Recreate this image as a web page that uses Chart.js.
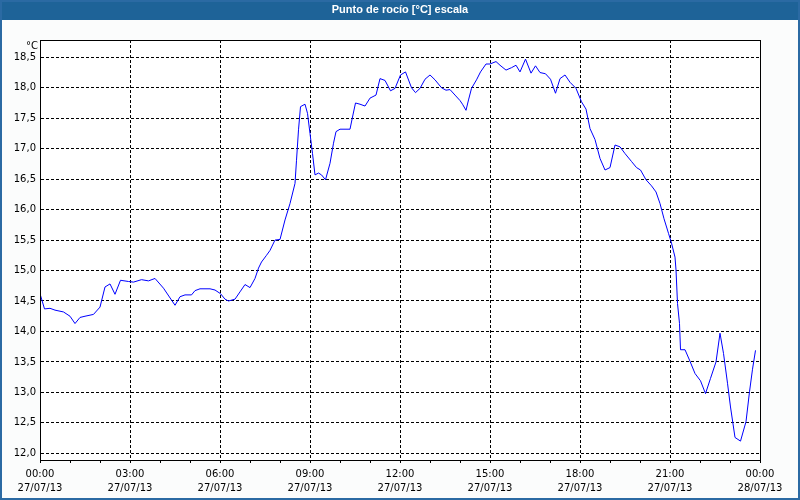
<!DOCTYPE html>
<html><head><meta charset="utf-8">
<script src="https://cdn.jsdelivr.net/npm/chart.js@4/dist/chart.umd.min.js"></script>
<style>html,body{margin:0;padding:0;background:#fff}#wrap{width:800px;height:500px;position:relative}</style>
</head><body><div id="wrap"><canvas id="c" width="800" height="500"></canvas></div>
<script>
const chartTitle = 'Punto de rocío [°C] escala';
const unitLabel = '°C';

const times = [
 '00:00','00:09','00:20','00:30','00:47','01:00','01:10','01:20','01:30','01:47',
 '02:00','02:10','02:20','02:30','02:41','02:57','03:07','03:23','03:37','03:50',
 '04:07','04:30','04:40','04:50','05:03','05:10','05:20','05:40','05:50','06:01',
 '06:10','06:17','06:30','06:40','06:50','07:00','07:10','07:17','07:23','07:33',
 '07:40','07:50','08:00','08:10','08:20','08:30','08:33','08:37','08:41','08:50',
 '08:55','09:00','09:05','09:10','09:17','09:23','09:31','09:40','09:47','09:52',
 '10:00','10:20','10:25','10:31','10:40','10:50','11:00','11:12','11:20','11:30',
 '11:41','11:50','12:01','12:11','12:23','12:31','12:40','12:50','13:00','13:10',
 '13:23','13:32','13:40','13:50','14:00','14:05','14:12','14:17','14:23','14:33',
 '14:41','14:52','15:00','15:12','15:20','15:32','15:43','15:52','16:00','16:11',
 '16:22','16:31','16:40','16:51','17:01','17:11','17:20','17:30','17:40','17:52',
 '18:03','18:12','18:20','18:30','18:40','18:50','19:00','19:10','19:20','19:30',
 '19:43','19:53','20:01','20:12','20:23','20:32','20:40','20:48','20:57','21:03',
 '21:10','21:12','21:15','21:19','21:21','21:30','21:39','21:50','22:01','22:11',
 '22:21','22:32','22:40','22:47','22:55','23:01','23:10','23:21','23:32','23:39',
 '23:45','23:51'
];
const dewPoint = [
 14.62,14.37,14.38,14.35,14.32,14.25,14.13,14.23,14.25,14.28,
 14.40,14.73,14.78,14.61,14.84,14.82,14.81,14.85,14.83,14.87,
 14.71,14.43,14.57,14.60,14.60,14.67,14.70,14.70,14.68,14.62,
 14.53,14.50,14.53,14.65,14.77,14.72,14.87,15.04,15.14,15.25,
 15.33,15.50,15.51,15.83,16.10,16.43,16.81,17.31,17.69,17.73,
 17.58,17.25,16.92,16.57,16.60,16.57,16.49,16.76,17.09,17.28,
 17.32,17.32,17.52,17.75,17.73,17.70,17.83,17.88,18.15,18.12,
 17.95,17.99,18.21,18.26,18.00,17.92,17.99,18.14,18.21,18.13,
 18.00,17.96,17.97,17.88,17.79,17.73,17.63,17.80,17.99,18.13,
 18.26,18.39,18.39,18.43,18.37,18.29,18.33,18.37,18.26,18.47,
 18.24,18.36,18.25,18.23,18.14,17.91,18.15,18.21,18.09,17.99,
 17.77,17.65,17.33,17.15,16.84,16.65,16.69,17.06,17.03,16.92,
 16.79,16.69,16.65,16.49,16.39,16.29,16.10,15.85,15.61,15.45,
 15.22,15.01,14.46,14.13,13.70,13.70,13.53,13.31,13.19,12.98,
 13.23,13.50,13.97,13.64,13.15,12.76,12.26,12.20,12.52,13.01,
 13.38,13.69
];

const yTickValues = [12.0,12.5,13.0,13.5,14.0,14.5,15.0,15.5,16.0,16.5,17.0,17.5,18.0,18.5];
const yTickLabels = ['12,0','12,5','13,0','13,5','14,0','14,5','15,0','15,5','16,0','16,5','17,0','17,5','18,0','18,5'];
const yMin = 11.89, yMax = 18.784;

const xTickHours = [0,3,6,9,12,15,18,21,24];
const xTickTimes = ['00:00','03:00','06:00','09:00','12:00','15:00','18:00','21:00','00:00'];
const xTickDates = ['27/07/13','27/07/13','27/07/13','27/07/13','27/07/13','27/07/13','27/07/13','27/07/13','28/07/13'];
const xMinorHours = [0,1,2,3,4,5,6,7,8,9,10,11,12,13,14,15,16,17,18,19,20,21,22,23,24];

const toHours = s => { const p = s.split(':'); return (+p[0]) + (+p[1]) / 60; };
const points = times.map((t, i) => ({ x: toHours(t), y: dewPoint[i] }));

const FONT = 'DejaVu Sans';

const framePlugin = {
  id: 'frame',
  beforeDraw(chart) {
    const ctx = chart.ctx, a = chart.chartArea;
    ctx.save();
    ctx.fillStyle = '#fbfcfc';
    ctx.fillRect(0, 0, chart.width, chart.height);
    ctx.fillStyle = '#1e6398';
    ctx.fillRect(0, 0, chart.width, 20);
    ctx.fillStyle = '#ffffff';
    ctx.fillRect(a.left, a.top, a.right - a.left, a.bottom - a.top);
    ctx.restore();
  },
  afterDraw(chart) {
    const ctx = chart.ctx, a = chart.chartArea;
    ctx.save();
    ctx.strokeStyle = '#000';
    ctx.lineWidth = 1;
    ctx.strokeRect(Math.round(a.left) + 0.5, Math.round(a.top) + 0.5, Math.round(a.right - a.left), Math.round(a.bottom - a.top));
    ctx.fillStyle = '#000';
    ctx.font = '10px "' + FONT + '"';
    ctx.textAlign = 'right';
    ctx.textBaseline = 'middle';
    ctx.fillText(unitLabel, a.left - 2, a.top + 6);
    ctx.strokeStyle = '#2b6aa3';
    ctx.lineWidth = 2;
    ctx.strokeRect(1, 1, chart.width - 2, chart.height - 2);
    ctx.restore();
  }
};

new Chart(document.getElementById('c'), {
  type: 'line',
  data: {
    datasets: [{
      data: points,
      borderColor: '#0000ff',
      borderWidth: 1,
      pointRadius: 0,
      tension: 0,
      fill: false
    }]
  },
  options: {
    responsive: false,
    devicePixelRatio: 1,
    animation: false,
    parsing: false,
    layout: { padding: { left: 0, right: 0, top: 0, bottom: 0 } },
    plugins: {
      legend: { display: false },
      tooltip: { enabled: false },
      title: {
        display: true,
        text: chartTitle,
        color: '#ffffff',
        font: { family: 'Liberation Sans', weight: 'bold', size: 11 },
        padding: { top: 3.4, bottom: 23.4 }
      }
    },
    scales: {
      x: {
        type: 'linear',
        min: 0, max: 24,
        afterBuildTicks: s => { s.ticks = xMinorHours.map(v => ({ value: v })); },
        afterFit: s => { s.height = 40; },
        ticks: {
          autoSkip: false, maxRotation: 0, minRotation: 0,
          color: '#000', padding: 4,
          font: { family: FONT, size: 10, lineHeight: 1.4 },
          callback: v => { const i = xTickHours.indexOf(v); return i >= 0 ? [xTickTimes[i], xTickDates[i]] : ''; }
        },
        grid: {
          color: c => (c.tick && xTickHours.indexOf(c.tick.value) >= 0) ? '#000' : 'rgba(0,0,0,0)',
          tickColor: '#000', tickLength: 3, lineWidth: 1
        },
        border: { display: true, color: '#000', width: 1, dash: [3, 2] }
      },
      y: {
        type: 'linear',
        min: yMin, max: yMax,
        afterBuildTicks: s => { s.ticks = yTickValues.map(v => ({ value: v })); },
        afterFit: s => { s.width = 40; },
        ticks: {
          color: '#000', padding: 4,
          font: { family: FONT, size: 10 },
          callback: v => { const i = yTickValues.findIndex(t => Math.abs(t - v) < 1e-6); return i >= 0 ? yTickLabels[i] : ''; }
        },
        grid: { color: '#000', drawTicks: false, lineWidth: 1 },
        border: { display: true, color: '#000', width: 1, dash: [3, 2] }
      },
      yRight: {
        type: 'linear', position: 'right', display: true,
        min: 0, max: 1,
        afterFit: s => { s.width = 40; },
        ticks: { display: false },
        grid: { display: false, drawTicks: false },
        border: { display: false }
      }
    }
  },
  plugins: [framePlugin]
});
</script></body></html>
